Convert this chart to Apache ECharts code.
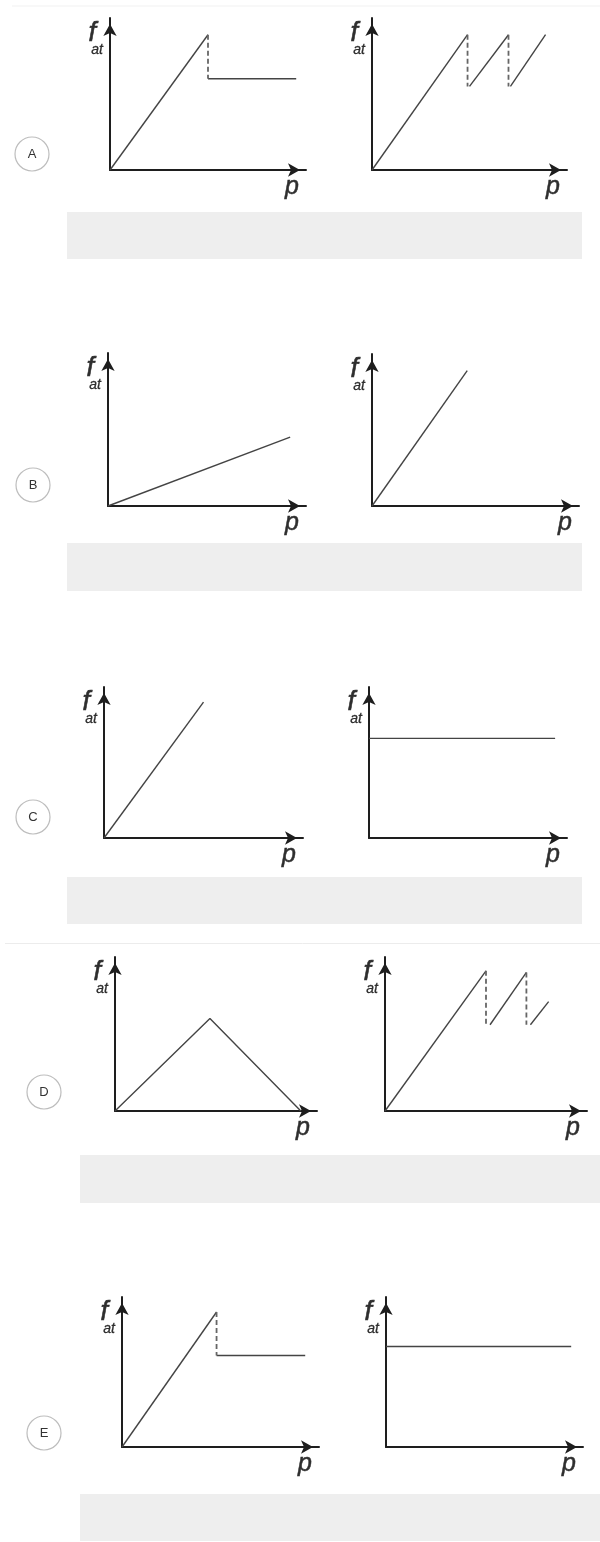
<!DOCTYPE html>
<html><head><meta charset="utf-8">
<script src="https://cdn.jsdelivr.net/npm/echarts@6.0.0/dist/echarts.min.js"></script>
<style>html,body{margin:0;padding:0;background:#fff}#c{width:600px;height:1542px}</style>
</head><body><div id="c"></div><script>
// ---- data (axis units: 0..10 from origin to arrow tip) ----
const optionLetters = ['A', 'B', 'C', 'D', 'E'];
const yAxisName = 'f';
const yAxisSub = 'at';
const xAxisName = 'p';

const aLeftSolid = [[[0, 0], [5.0, 8.9]], [[5.0, 6.0], [9.5, 6.0]]];
const aLeftDashed = [[[5.0, 8.9], [5.0, 6.0]]];
const aRightSolid = [[[0, 0], [4.9, 8.9]], [[5.0, 5.5], [7.0, 8.9]], [[7.1, 5.5], [8.9, 8.9]]];
const aRightDashed = [[[4.9, 8.9], [4.9, 5.5]], [[7.0, 8.9], [7.0, 5.5]]];
const bLeftSolid = [[[0, 0], [9.2, 4.5]]];
const bRightSolid = [[[0, 0], [4.6, 8.9]]];
const cLeftSolid = [[[0, 0], [5.0, 9.0]]];
const cRightSolid = [[[0, 6.6], [9.4, 6.6]]];
const dLeftSolid = [[[0, 0], [4.7, 6.0], [9.2, 0]]];
const dRightSolid = [[[0, 0], [5.0, 9.1]], [[5.2, 5.6], [7.0, 9.0]], [[7.2, 5.6], [8.1, 7.1]]];
const dRightDashed = [[[5.0, 9.1], [5.0, 5.6]], [[7.0, 9.0], [7.0, 5.6]]];
const eLeftSolid = [[[0, 0], [4.8, 9.0]], [[4.8, 6.1], [9.3, 6.1]]];
const eLeftDashed = [[[4.8, 9.0], [4.8, 6.1]]];
const eRightSolid = [[[0, 6.7], [9.4, 6.7]]];

const charts = [
  {solid: aLeftSolid, dashed: aLeftDashed},
  {solid: aRightSolid, dashed: aRightDashed},
  {solid: bLeftSolid, dashed: []},
  {solid: bRightSolid, dashed: []},
  {solid: cLeftSolid, dashed: []},
  {solid: cRightSolid, dashed: []},
  {solid: dLeftSolid, dashed: []},
  {solid: dRightSolid, dashed: dRightDashed},
  {solid: eLeftSolid, dashed: eLeftDashed},
  {solid: eRightSolid, dashed: []}
];

// ---- layout (origin x, arrow-tip y, arrow-tip x, origin y) ----
const boxes = [
  [110, 18, 306, 170], [372, 18, 567, 170],
  [108, 353, 306, 506], [372, 354, 579, 506],
  [104, 687, 303, 838], [369, 687, 567, 838],
  [115, 957, 317, 1111], [385, 957, 587, 1111],
  [122, 1297, 319, 1447], [386, 1297, 583, 1447]
];
const circles = [[32, 154], [33, 485], [33, 817], [44, 1092], [44, 1433]];
const answerBoxes = [[67, 212, 515, 47], [67, 543, 515, 48], [67, 877, 515, 47], [80, 1155, 520, 48], [80, 1494, 520, 47]];

const FONT = '"Liberation Sans", Arial, sans-serif';
const AXIS_COLOR = '#1e1e1e';
const TXT = '#2e2e2e';

const grid = [], xAxis = [], yAxis = [], series = [];
boxes.forEach((b, i) => {
  grid.push({left: b[0], top: b[1], width: b[2] - b[0], height: b[3] - b[1], containLabel: false});
  const axisLine = {show: true, onZero: false, symbol: ['none', 'arrow'], symbolSize: [10, 12], symbolOffset: [0, -6],
    lineStyle: {color: AXIS_COLOR, width: 2}};
  xAxis.push({gridIndex: i, type: 'value', min: 0, max: 10, axisLine: axisLine,
    axisTick: {show: false}, axisLabel: {show: false}, splitLine: {show: false},
    name: xAxisName, nameLocation: 'end', nameGap: -21,
    nameTextStyle: {fontFamily: FONT, fontStyle: 'italic', fontSize: 25, color: TXT, textBorderColor: TXT, textBorderWidth: 0.5,
      align: 'left', verticalAlign: 'top', padding: [5, 0, 0, 0]}});
  yAxis.push({gridIndex: i, type: 'value', min: 0, max: 10, axisLine: axisLine,
    axisTick: {show: false}, axisLabel: {show: false}, splitLine: {show: false},
    name: '{f|' + yAxisName + '}\n{s|' + yAxisSub + '}', nameLocation: 'end', nameGap: -5,
    nameTextStyle: {align: 'right', verticalAlign: 'top', padding: [0, 7, 0, 0],
      rich: {
        f: {fontFamily: FONT, fontStyle: 'italic', fontSize: 27, color: TXT, textBorderColor: TXT, textBorderWidth: 0.6, lineHeight: 21, padding: [0, 7, 0, 0]},
        s: {fontFamily: FONT, fontStyle: 'italic', fontSize: 14, color: TXT, textBorderColor: TXT, textBorderWidth: 0.3, lineHeight: 13}
      }}});
  charts[i].solid.forEach(seg => series.push({type: 'line', xAxisIndex: i, yAxisIndex: i, data: seg,
    symbol: 'none', silent: true, lineStyle: {color: '#444', width: 1.4}}));
  charts[i].dashed.forEach(seg => series.push({type: 'line', xAxisIndex: i, yAxisIndex: i, data: seg,
    symbol: 'none', silent: true, lineStyle: {color: '#666', width: 1.8, type: [5, 3]}}));
});

const graphic = [];
graphic.push({type: 'line', shape: {x1: 12, y1: 6, x2: 600, y2: 6}, style: {stroke: '#f1f1f1', lineWidth: 1}, silent: true});
graphic.push({type: 'line', shape: {x1: 5, y1: 943.5, x2: 600, y2: 943.5}, style: {stroke: '#ececec', lineWidth: 1}, silent: true});
answerBoxes.forEach(r => graphic.push({type: 'rect', shape: {x: r[0], y: r[1], width: r[2], height: r[3]},
  style: {fill: '#eeeeee'}, silent: true, z: 1}));
circles.forEach((c, i) => {
  graphic.push({type: 'circle', shape: {cx: c[0], cy: c[1], r: 17}, style: {fill: '#fff', stroke: '#bdbdbd', lineWidth: 1.2}, silent: true});
  graphic.push({type: 'text', x: c[0], y: c[1], style: {text: optionLetters[i], fill: '#333', font: '13px ' + FONT,
    align: 'center', verticalAlign: 'middle'}, silent: true, z: 10});
});

const chart = echarts.init(document.getElementById('c'), null, {renderer: 'canvas'});
chart.setOption({animation: false, backgroundColor: '#fff', grid, xAxis, yAxis, series, graphic});
</script></body></html>
